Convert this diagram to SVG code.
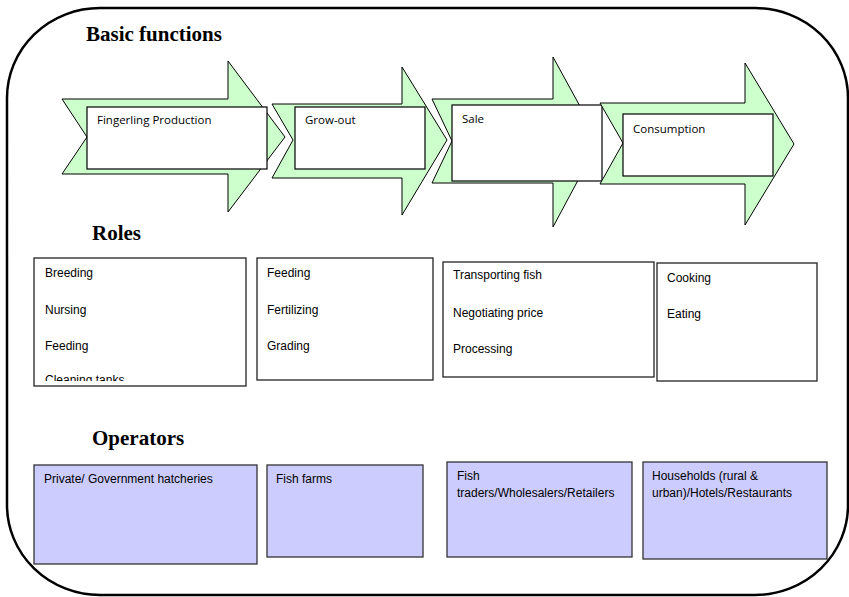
<svg xmlns="http://www.w3.org/2000/svg" width="849" height="597" viewBox="0 0 849 597">
<style>
.frame{fill:#fff;stroke:#000;stroke-width:2.5}
.head{font-family:"Liberation Serif",serif;font-weight:bold;font-size:21px;fill:#000}
.arrow{fill:#ccffcc;stroke:#000;stroke-width:1}
.fbox{fill:#fff;stroke:#000;stroke-width:1.2}
.ftxt{font-family:"Open Sans","Liberation Sans",sans-serif;font-size:11.5px;fill:#000}
.rbox{fill:#fff;stroke:#222;stroke-width:1.3}
.obox{fill:#ccccff;stroke:#333;stroke-width:1.3}
.txt{font-family:"Liberation Sans",Arial,sans-serif;font-size:12px;fill:#000}
</style>
<defs>
<clipPath id="clipR1"><rect x="35" y="259" width="210" height="122"/></clipPath>
</defs>
<rect class="frame" x="7" y="8" width="841" height="587" rx="93" ry="90"/>
<text class="head" x="86" y="41">Basic functions</text>
<text class="head" x="92" y="240">Roles</text>
<text class="head" x="92" y="445">Operators</text>
<g id="connectors"></g>
<g id="f1">
<polygon class="arrow" points="62,99 228,99 228,61 285,137 228,212 228,174 62,174 87,137"/>
<rect class="fbox" x="87" y="107" width="180" height="62"/>
<text class="ftxt" x="97" y="124">Fingerling Production</text>
</g>
<g id="f2">
<polygon class="arrow" points="272,104 402,104 402,67 447,140 402,215 402,178 272,178 293,140"/>
<rect class="fbox" x="295" y="107" width="130" height="62"/>
<text class="ftxt" x="305" y="124">Grow-out</text>
</g>
<g id="f3">
<polygon class="arrow" points="432,99 553,99 553,57 599,141 553,227 553,183 432,183 452,141"/>
<rect class="fbox" x="452" y="105" width="150" height="76"/>
<text class="ftxt" x="462" y="123">Sale</text>
</g>
<g id="f4">
<polygon class="arrow" points="600,103 745,103 745,63 794,144 745,225 745,184 600,184 623,143"/>
<rect class="fbox" x="623" y="114" width="150" height="62"/>
<text class="ftxt" x="633" y="133">Consumption</text>
</g>
<g id="r1">
<rect class="rbox" x="34" y="258" width="212" height="128"/>
<g clip-path="url(#clipR1)">
<text class="txt" x="45" y="277">Breeding</text>
<text class="txt" x="45" y="314">Nursing</text>
<text class="txt" x="45" y="350">Feeding</text>
<text class="txt" x="45" y="384">Cleaning tanks</text>
</g>
</g>
<g id="r2">
<rect class="rbox" x="257" y="258" width="176" height="122"/>
<text class="txt" x="267" y="277">Feeding</text>
<text class="txt" x="267" y="314">Fertilizing</text>
<text class="txt" x="267" y="350">Grading</text>
</g>
<g id="r3">
<rect class="rbox" x="443" y="262" width="211" height="115"/>
<text class="txt" x="453" y="279">Transporting fish</text>
<text class="txt" x="453" y="317">Negotiating price</text>
<text class="txt" x="453" y="353">Processing</text>
</g>
<g id="r4">
<rect class="rbox" x="657" y="263" width="160" height="118"/>
<text class="txt" x="667" y="282">Cooking</text>
<text class="txt" x="667" y="318">Eating</text>
</g>
<g id="o1">
<rect class="obox" x="34" y="465" width="223" height="99"/>
<text class="txt" x="44" y="483">Private/ Government hatcheries</text>
</g>
<g id="o2">
<rect class="obox" x="267" y="465" width="156" height="92"/>
<text class="txt" x="276" y="483">Fish farms</text>
</g>
<g id="o3">
<rect class="obox" x="447" y="462" width="185" height="95"/>
<text class="txt" x="457" y="480">Fish</text>
<text class="txt" x="457" y="497">traders/Wholesalers/Retailers</text>
</g>
<g id="o4">
<rect class="obox" x="643" y="462" width="184" height="97"/>
<text class="txt" x="652" y="480">Households (rural &amp;</text>
<text class="txt" x="652" y="497">urban)/Hotels/Restaurants</text>
</g>
</svg>
